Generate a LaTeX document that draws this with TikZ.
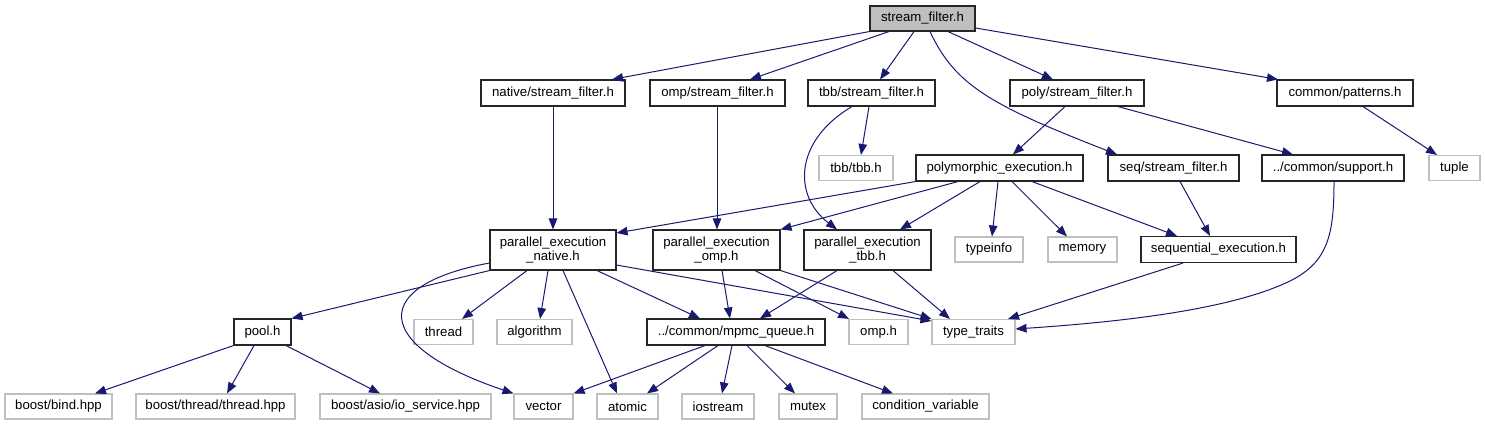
\documentclass[tikz,border=0pt]{standalone}
\usepackage{fontspec}
\setmainfont{Liberation Sans}
\usetikzlibrary{arrows.meta}
\definecolor{edgeblue}{HTML}{191970}
\definecolor{extgray}{HTML}{BFBFBF}
\begin{document}
\begin{tikzpicture}[x=1pt,y=-1pt,
  box/.style={rectangle, inner sep=0pt, line width=1.1pt, fill=white,
    font=\fontsize{13.2}{14.5}\selectfont, align=center},
  proj/.style={box, draw=black!85},
  ext/.style={box, draw=extgray},
  rootbox/.style={box, draw=black!85, fill=extgray},
  dep/.style={draw=edgeblue, line width=1pt, -{Triangle[length=11pt,width=8.5pt]}, fill=none}
]
\useasboundingbox (0,0) rectangle (1485,425);

% row 1
\node[rootbox, minimum width=105pt, minimum height=25pt] (root) at (922.5,18.5) {stream\_filter.h};
% row 2
\node[proj, minimum width=144pt, minimum height=26pt] (nsf) at (553,93) {native/stream\_filter.h};
\node[proj, minimum width=135pt, minimum height=26pt] (osf) at (717.5,93) {omp/stream\_filter.h};
\node[proj, minimum width=127pt, minimum height=26pt] (tsf) at (871.5,93) {tbb/stream\_filter.h};
\node[proj, minimum width=134pt, minimum height=26pt] (psf) at (1077,93) {poly/stream\_filter.h};
\node[proj, minimum width=136pt, minimum height=26pt] (pat) at (1345,93) {common/patterns.h};
% row 3
\node[ext, minimum width=74pt, minimum height=25pt] (tbbh) at (856,168) {tbb/tbb.h};
\node[proj, minimum width=167pt, minimum height=26pt] (polyx) at (999.5,168) {polymorphic\_execution.h};
\node[proj, minimum width=131pt, minimum height=26pt] (ssf) at (1173.5,168) {seq/stream\_filter.h};
\node[proj, minimum width=142pt, minimum height=26pt] (sup) at (1333,168) {../common/support.h};
\node[ext, minimum width=51pt, minimum height=25pt] (tuple) at (1454.5,168) {tuple};
% row 4
\node[proj, minimum width=126pt, minimum height=40pt] (pen) at (553,250) {parallel\_execution\\\_native.h};
\node[proj, minimum width=127pt, minimum height=40pt] (peo) at (716.5,250) {parallel\_execution\\\_omp.h};
\node[proj, minimum width=127pt, minimum height=40pt] (pet) at (867.5,250) {parallel\_execution\\\_tbb.h};
\node[ext, minimum width=68pt, minimum height=25pt] (typeinfo) at (989,249.5) {typeinfo};
\node[ext, minimum width=69pt, minimum height=25pt] (memory) at (1082.5,249.5) {memory};
\node[proj, minimum width=155pt, minimum height=26pt] (seqx) at (1218.5,249.5) {sequential\_execution.h};
% row 5
\node[proj, minimum width=57pt, minimum height=26pt] (pool) at (262.5,332) {pool.h};
\node[ext, minimum width=59pt, minimum height=25pt] (thread) at (443.5,332) {thread};
\node[ext, minimum width=75pt, minimum height=25pt] (algorithm) at (534.5,332) {algorithm};
\node[proj, minimum width=178pt, minimum height=26pt] (mpmc) at (736,332) {../common/mpmc\_queue.h};
\node[ext, minimum width=59pt, minimum height=25pt] (omph) at (878.5,332) {omp.h};
\node[ext, minimum width=83pt, minimum height=25pt] (tt) at (973.5,332) {type\_traits};
% row 6
\node[ext, minimum width=107pt, minimum height=25pt] (bind) at (58.5,406.5) {boost/bind.hpp};
\node[ext, minimum width=159pt, minimum height=25pt] (bthread) at (215.5,406.5) {boost/thread/thread.hpp};
\node[ext, minimum width=171pt, minimum height=25pt] (asio) at (405.5,406.5) {boost/asio/io\_service.hpp};
\node[ext, minimum width=59pt, minimum height=25pt] (vector) at (543.5,406.5) {vector};
\node[ext, minimum width=61pt, minimum height=25pt] (atomic) at (627.5,406.5) {atomic};
\node[ext, minimum width=72pt, minimum height=25pt] (iostream) at (718,406.5) {iostream};
\node[ext, minimum width=58pt, minimum height=25pt] (mutex) at (808,406.5) {mutex};
\node[ext, minimum width=127pt, minimum height=25pt] (condvar) at (925.5,406.5) {condition\_variable};

% edges from root
\draw[dep] (root.south west) -- (nsf.north -| 612,0);
\draw[dep] (root.south -| 889,0) -- (osf.north -| 750,0);
\draw[dep] (root.south -| 914,0) -- (tsf.north -| 880,0);
\draw[dep] (root.south -| 930,0) .. controls (955,85) and (990,105) .. (ssf.north -| 1117,0);
\draw[dep] (root.south -| 948,0) -- (psf.north -| 1053,0);
\draw[dep] (root.east |- 0,28) -- (pat.north -| 1278,0);

% row 2 edges
\draw[dep] (nsf.south -| 553,0) -- (pen.north -| 553,0);
\draw[dep] (osf.south -| 717,0) -- (peo.north -| 717,0);
\draw[dep] (tsf.south -| 869,0) -- (tbbh.north -| 861,0);
\draw[dep] (tsf.south -| 852,0) .. controls (795,140) and (792,195) .. (pet.north -| 837,0);
\draw[dep] (psf.south -| 1065,0) -- (polyx.north -| 1013,0);
\draw[dep] (psf.south -| 1118,0) -- (sup.north -| 1293,0);
\draw[dep] (pat.south -| 1363,0) -- (tuple.north -| 1437,0);

% row 3 edges
\draw[dep] (polyx.south west) -- (pen.east |- 0,233);
\draw[dep] (polyx.south -| 958,0) -- (peo.north east);
\draw[dep] (polyx.south -| 980,0) -- (pet.north -| 900,0);
\draw[dep] (polyx.south -| 998,0) -- (typeinfo.north -| 992,0);
\draw[dep] (polyx.south -| 1012,0) -- (memory.north -| 1067,0);
\draw[dep] (polyx.south -| 1032,0) -- (seqx.north -| 1177,0);
\draw[dep] (ssf.south -| 1180,0) -- (seqx.north -| 1210,0);
\draw[dep] (sup.south -| 1334,0) .. controls (1334,235) and (1328,262) .. (1290,281)
  .. controls (1230,310) and (1120,322) .. (tt.east |- 0,329);

% row 4 edges
\draw[dep] (pen.south west) -- (pool.north east);
\draw[dep] (pen.west |- 0,263) .. controls (370,285) and (370,345) .. (vector.north west);
\draw[dep] (pen.south -| 527,0) -- (thread.north -| 462,0);
\draw[dep] (pen.south -| 548,0) -- (algorithm.north -| 540,0);
\draw[dep] (pen.south -| 563,0) -- (atomic.north -| 617,0);
\draw[dep] (pen.south -| 597,0) -- (mpmc.north -| 700,0);
\draw[dep] (pen.east |- 0,265) -- (tt.west |- 0,321);
\draw[dep] (peo.south -| 722,0) -- (mpmc.north -| 730,0);
\draw[dep] (peo.south -| 755,0) -- (omph.north -| 849,0);
\draw[dep] (peo.south east) -- (tt.north west);
\draw[dep] (pet.south -| 837,0) -- (mpmc.north -| 760,0);
\draw[dep] (pet.south -| 893,0) -- (tt.north -| 950,0);
\draw[dep] (seqx.south -| 1183,0) -- (tt.north -| 1008,0);

% row 5 edges
\draw[dep] (pool.south west) -- (bind.north -| 95,0);
\draw[dep] (pool.south -| 254,0) -- (bthread.north -| 227,0);
\draw[dep] (pool.south -| 286,0) -- (asio.north -| 380,0);
\draw[dep] (mpmc.south -| 705,0) -- (vector.north east);
\draw[dep] (mpmc.south -| 718,0) -- (atomic.north -| 647,0);
\draw[dep] (mpmc.south -| 732,0) -- (iostream.north -| 722,0);
\draw[dep] (mpmc.south -| 747,0) -- (mutex.north -| 795,0);
\draw[dep] (mpmc.south -| 765,0) -- (condvar.north -| 893,0);
\end{tikzpicture}
\end{document}
